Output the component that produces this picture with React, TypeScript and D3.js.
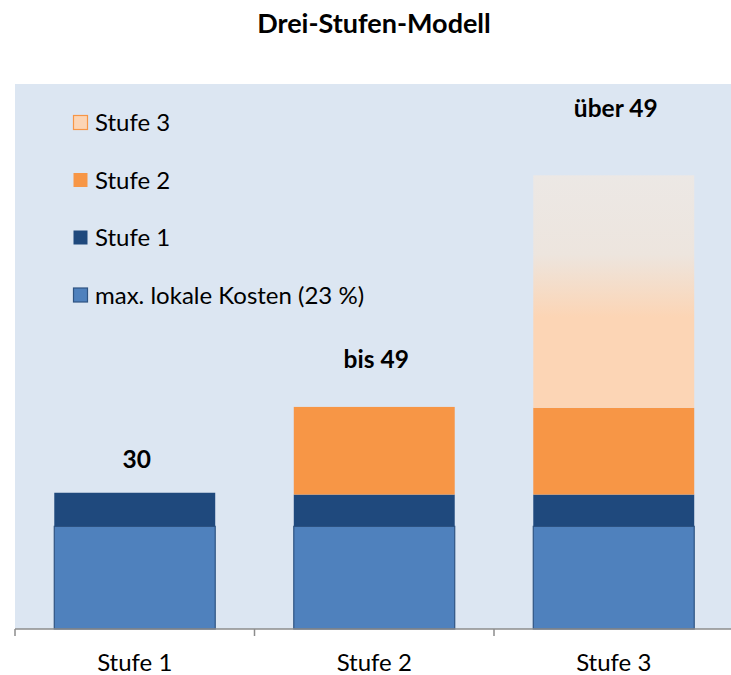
import { useEffect, useRef } from "react";
import * as d3 from "d3";

const categories = ["Stufe 1", "Stufe 2", "Stufe 3"];
const lokaleKosten = [22.6, 22.6, 22.6];
const stufe1 = [7.4, 7.0, 7.0];
const stufe2 = [0, 19.3, 19.1];
const stufe3 = [0, 0, 51.2];
const barLabels = ["30", "bis 49", "über 49"];
// where the label text boxes sit, in value units
const labelPos = [35.4, 57.5, 112.7];
const seriesNames = ["max. lokale Kosten (23 %)", "Stufe 1", "Stufe 2", "Stufe 3"];
const yMax = 120;

const FONT = "Lato, 'Open Sans', sans-serif";

export default function App() {
  const ref = useRef<SVGSVGElement>(null);

  useEffect(() => {
    document.body.style.margin = "0";
    const width = 731, height = 675;
    const left = 15, right = 733.5, top = 84, bottom = 629;

    const svg = d3.select(ref.current);
    svg.selectAll("*").remove();
    svg.attr("width", width).attr("height", height);

    const defs = svg.append("defs");
    const grad = defs.append("linearGradient")
      .attr("id", "s3grad")
      .attr("x1", 0).attr("y1", 0).attr("x2", 0).attr("y2", 1);
    grad.append("stop").attr("offset", 0).attr("stop-color", "#ece8e5");
    grad.append("stop").attr("offset", 0.34).attr("stop-color", "#ede5de");
    grad.append("stop").attr("offset", 0.61).attr("stop-color", "#fcd5b5");
    grad.append("stop").attr("offset", 1).attr("stop-color", "#fcd5b5");

    // title
    svg.append("text")
      .attr("x", 374).attr("y", 33)
      .attr("text-anchor", "middle")
      .attr("font-family", FONT).attr("font-weight", "bold").attr("font-size", 27)
      .text("Drei-Stufen-Modell");

    // plot background
    svg.append("rect")
      .attr("x", left).attr("y", top)
      .attr("width", width - left).attr("height", bottom - top)
      .attr("fill", "#dce6f2");

    const x = d3.scaleBand<string>()
      .domain(categories)
      .range([left, right])
      .paddingInner(0.328)
      .paddingOuter(0.164);

    const y = d3.scaleLinear().domain([0, yMax]).range([bottom, top]);

    const rows = categories.map((c, i) => ({
      cat: c, base: lokaleKosten[i], s1: stufe1[i], s2: stufe2[i], s3: stufe3[i],
    }));
    const keys = ["base", "s1", "s2", "s3"];
    const fills: Record<string, string> = {
      base: "#4f81bd", s1: "#1f497d", s2: "#f79646", s3: "url(#s3grad)",
    };
    const stack = d3.stack<any>().keys(keys)(rows);

    const g = svg.append("g");
    stack.forEach(layer => {
      g.selectAll(null)
        .data(layer.filter(d => d[1] - d[0] > 0))
        .enter().append("rect")
        .attr("x", d => x(d.data.cat)!)
        .attr("width", x.bandwidth())
        .attr("y", d => y(d[1]))
        .attr("height", d => y(d[0]) - y(d[1]))
        .attr("fill", fills[layer.key])
        .attr("stroke", layer.key === "base" ? "#2f5482" : "none")
        .attr("stroke-width", 1.2);
    });

    // value labels above the bars
    svg.selectAll(null)
      .data(categories)
      .enter().append("text")
      .attr("x", d => x(d)! + x.bandwidth() / 2 + 2)
      .attr("y", (d, i) => y(labelPos[i]))
      .attr("text-anchor", "middle")
      .attr("font-family", FONT).attr("font-weight", "bold").attr("font-size", 24.5)
      .text((d, i) => barLabels[i]);

    // x axis
    const axis = svg.append("g").attr("transform", `translate(0,${bottom})`);
    axis.append("line")
      .attr("x1", left).attr("x2", width)
      .attr("stroke", "#8c8c8c").attr("stroke-width", 1.5);
    const step = x.step();
    const bounds = d3.range(categories.length + 1).map(i => left + i * step);
    axis.selectAll(null).data(bounds).enter().append("line")
      .attr("x1", d => d).attr("x2", d => d)
      .attr("y1", 0).attr("y2", 7)
      .attr("stroke", "#8c8c8c").attr("stroke-width", 1.5);
    axis.selectAll(null).data(categories).enter().append("text")
      .attr("x", d => x(d)! + x.bandwidth() / 2)
      .attr("y", 42)
      .attr("text-anchor", "middle")
      .attr("font-family", FONT).attr("font-size", 24)
      .text(d => d);

    // legend, top series first
    const legendItems = keys.map((k, i) => ({ key: k, name: seriesNames[i] })).reverse();
    const lg = svg.append("g");
    legendItems.forEach((it, i) => {
      const ly = 115 + i * 57.5;
      lg.append("rect")
        .attr("x", 73.5).attr("y", ly + 0.5)
        .attr("width", 14).attr("height", 14)
        .attr("fill", it.key === "s3" ? "#fcd5b5" : fills[it.key])
        .attr("stroke", it.key === "s3" ? "#f79646" : it.key === "base" ? "#2f5482" : "none")
        .attr("stroke-width", 1.2);
      lg.append("text")
        .attr("x", 95).attr("y", ly + 16)
        .attr("font-family", FONT).attr("font-size", 24)
        .text(it.name);
    });
  }, []);

  return <svg ref={ref} style={{ display: "block" }} />;
}
